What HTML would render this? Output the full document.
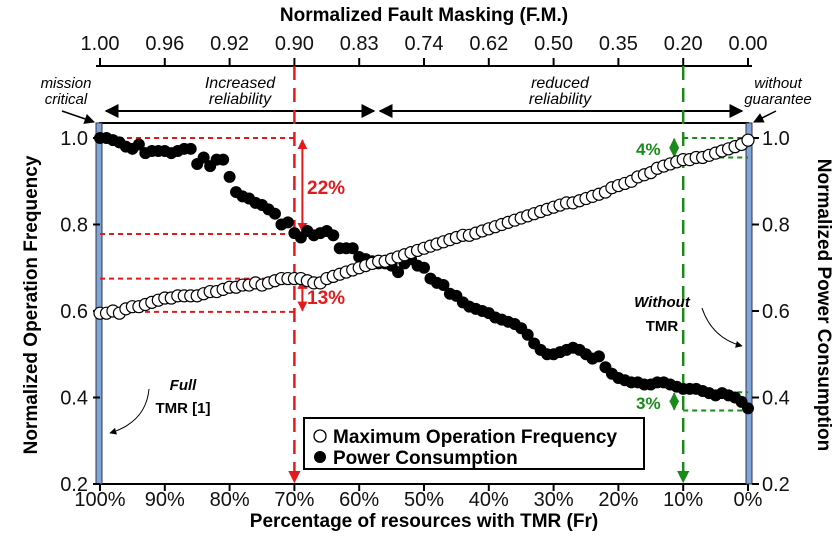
<!DOCTYPE html>
<html><head><meta charset="utf-8"><style>
html,body{margin:0;padding:0;background:#fff;width:838px;height:547px;overflow:hidden}
svg{display:block;font-family:"Liberation Sans","DejaVu Sans",sans-serif}
</style></head><body>
<svg id="chart" width="838" height="547" viewBox="0 0 838 547" xmlns="http://www.w3.org/2000/svg">
<defs>
<marker id="ab" viewBox="0 0 10 10" refX="9" refY="5" markerWidth="7" markerHeight="7" orient="auto-start-reverse"><path d="M0,0L10,5L0,10z" fill="#000"/></marker>
<marker id="ar" viewBox="0 0 10 10" refX="9" refY="5" markerWidth="5" markerHeight="5" orient="auto-start-reverse"><path d="M0,0L10,5L0,10z" fill="#e31a1c"/></marker>
<marker id="ag" viewBox="0 0 10 10" refX="9" refY="5" markerWidth="5" markerHeight="5" orient="auto-start-reverse"><path d="M0,0L10,5L0,10z" fill="#1a8a1a"/></marker>
</defs>
<g id="g"></g>
</svg>
<script>
const frTicks=[100,90,80,70,60,50,40,30,20,10,0];
const fmLabels=["1.00","0.96","0.92","0.90","0.83","0.74","0.62","0.50","0.35","0.20","0.00"];
const yTicks=[0.2,0.4,0.6,0.8,1.0];
// values from Fr=100% down to 0% in 1% steps
const powerValues=[1.0,1.0,0.995,0.99,0.98,0.975,0.985,0.965,0.97,0.97,0.97,0.965,0.97,0.975,0.975,0.94,0.955,0.935,0.95,0.95,0.91,0.875,0.865,0.86,0.85,0.845,0.835,0.825,0.80,0.805,0.78,0.77,0.785,0.775,0.78,0.785,0.775,0.745,0.745,0.745,0.725,0.72,0.715,0.71,0.71,0.705,0.69,0.71,0.72,0.705,0.70,0.675,0.665,0.66,0.64,0.635,0.62,0.61,0.605,0.60,0.595,0.585,0.58,0.575,0.57,0.56,0.545,0.525,0.51,0.50,0.50,0.505,0.51,0.515,0.51,0.50,0.49,0.495,0.47,0.455,0.445,0.44,0.435,0.435,0.43,0.43,0.435,0.435,0.43,0.425,0.42,0.42,0.42,0.415,0.41,0.405,0.41,0.405,0.40,0.39,0.375];
const freqValues=[0.595,0.595,0.60,0.595,0.605,0.61,0.61,0.615,0.62,0.625,0.63,0.63,0.635,0.635,0.635,0.635,0.64,0.645,0.645,0.65,0.655,0.655,0.66,0.66,0.665,0.66,0.665,0.67,0.675,0.675,0.675,0.675,0.67,0.665,0.665,0.675,0.68,0.685,0.69,0.695,0.70,0.705,0.71,0.715,0.715,0.72,0.725,0.73,0.735,0.74,0.745,0.75,0.755,0.76,0.765,0.77,0.775,0.775,0.78,0.785,0.79,0.795,0.80,0.805,0.81,0.815,0.82,0.825,0.83,0.835,0.84,0.845,0.85,0.85,0.855,0.86,0.865,0.87,0.875,0.885,0.89,0.895,0.90,0.91,0.915,0.92,0.93,0.935,0.94,0.945,0.95,0.95,0.955,0.955,0.96,0.965,0.97,0.975,0.98,0.985,0.995];
const X0=100,X1=748,YB=484,YT=138;
const xs=fr=>X0+(100-fr)/100*(X1-X0);
const ys=v=>YB-(v-0.2)/0.8*(YB-YT);
const g=document.getElementById('g');
const NS='http://www.w3.org/2000/svg';
function el(tag,attrs,parent,text){const e=document.createElementNS(NS,tag);for(const k in attrs)e.setAttribute(k,attrs[k]);if(text!==undefined)e.textContent=text;(parent||g).appendChild(e);return e;}
let f=el('rect',{x:X0,y:123,width:X1-X0,height:YB-123,fill:'none',stroke:'#000','stroke-width':2});

let b=el('rect',{x:96,y:123,width:6,height:YB-123,fill:'#7fa6d8',stroke:'#334','stroke-width':1});

b=el('rect',{x:746,y:123,width:6,height:YB-123,fill:'#7fa6d8',stroke:'#334','stroke-width':1});

frTicks.forEach((t,i)=>{
 let l=el('line',{x1:xs(t),x2:xs(t),y1:YB,y2:YB+7,stroke:'#000','stroke-width':2});
 
 let tx=el('text',{x:xs(t),y:YB+22,'text-anchor':'middle','font-size':20,fill:'#111'},null,t+'%');
 
 let l2=el('line',{x1:xs(t),x2:xs(t),y1:66,y2:58,stroke:'#000','stroke-width':2});
 
 let t2=el('text',{x:xs(t),y:50,'text-anchor':'middle','font-size':20,fill:'#111'},null,fmLabels[i]);
 
});
let ta=el('line',{x1:96,x2:752,y1:66,y2:66,stroke:'#000','stroke-width':2});

yTicks.forEach(v=>{
 let l=el('line',{x1:X0-7,x2:X0,y1:ys(v),y2:ys(v),stroke:'#000','stroke-width':2});
 
 let t=el('text',{x:X0-12,y:ys(v)+7,'text-anchor':'end','font-size':20,fill:'#111'},null,v.toFixed(1));
 
 let l2=el('line',{x1:752,x2:759,y1:ys(v),y2:ys(v),stroke:'#000','stroke-width':2});
 
 let t2=el('text',{x:762,y:ys(v)+7,'font-size':20,fill:'#111'},null,v.toFixed(1));
 
});
let tt=el('text',{x:424,y:527,'text-anchor':'middle','font-size':19,'font-weight':'bold'},null,'Percentage of resources with TMR (Fr)');

tt=el('text',{x:424,y:21,'text-anchor':'middle','font-size':19,'font-weight':'bold'},null,'Normalized Fault Masking (F.M.)');

tt=el('text',{x:0,y:0,'text-anchor':'middle','font-size':19,'font-weight':'bold',transform:'translate(37,305) rotate(-90)'},null,'Normalized Operation Frequency');

tt=el('text',{x:0,y:0,'text-anchor':'middle','font-size':19,'font-weight':'bold',transform:'translate(818,305) rotate(90)'},null,'Normalized Power Consumption');

let a=el('line',{x1:106,x2:374,y1:111,y2:111,stroke:'#000','stroke-width':2,'marker-start':'url(#ab)','marker-end':'url(#ab)'});

a=el('line',{x1:380,x2:742,y1:111,y2:111,stroke:'#000','stroke-width':2,'marker-start':'url(#ab)','marker-end':'url(#ab)'});

[['Increased',240,88],['reliability',240,104],['reduced',560,88],['reliability',560,104]].forEach(p=>{
 let t=el('text',{x:p[1],y:p[2],'text-anchor':'middle','font-size':16,'font-style':'italic'},null,p[0]);
 });
[['mission',66,88],['critical',66,104],['without',778,88],['guarantee',778,104]].forEach(p=>{
 let t=el('text',{x:p[1],y:p[2],'text-anchor':'middle','font-size':15,'font-style':'italic'},null,p[0]);
 });
a=el('line',{x1:62,x2:94,y1:111,y2:122,stroke:'#000','stroke-width':1.5,'marker-end':'url(#ab)'});

a=el('line',{x1:776,x2:754,y1:111,y2:122,stroke:'#000','stroke-width':1.5,'marker-end':'url(#ab)'});

const R='#e31a1c',G='#1a8a1a';
[[1.0],[0.778],[0.675],[0.598]].forEach(v=>{let l=el('line',{x1:X0,x2:xs(70),y1:ys(v[0]),y2:ys(v[0]),stroke:R,'stroke-width':2,'stroke-dasharray':'5,4'});
 });
a=el('line',{x1:xs(70),x2:xs(70),y1:66,y2:482,stroke:R,'stroke-width':2.5,'stroke-dasharray':'14,8','marker-end':'url(#ar)'});

a=el('line',{x1:xs(70)+8,x2:xs(70)+8,y1:ys(0.995),y2:ys(0.783),stroke:R,'stroke-width':2,'marker-start':'url(#ar)','marker-end':'url(#ar)'});

a=el('line',{x1:xs(70)+8,x2:xs(70)+8,y1:ys(0.672),y2:ys(0.601),stroke:R,'stroke-width':2,'marker-start':'url(#ar)','marker-end':'url(#ar)'});

let t=el('text',{x:307,y:194,'font-size':19,'font-weight':'bold',fill:R},null,'22%');
t=el('text',{x:307,y:304,'font-size':19,'font-weight':'bold',fill:R},null,'13%');
[[1.0],[0.955],[0.412],[0.37]].forEach(v=>{let l=el('line',{x1:xs(10),x2:X1,y1:ys(v[0]),y2:ys(v[0]),stroke:G,'stroke-width':2,'stroke-dasharray':'5,4'});
 });
a=el('line',{x1:xs(10),x2:xs(10),y1:66,y2:482,stroke:G,'stroke-width':2.5,'stroke-dasharray':'14,8','marker-end':'url(#ag)'});

a=el('line',{x1:xs(10)-9,x2:xs(10)-9,y1:ys(0.998),y2:ys(0.957),stroke:G,'stroke-width':2,'marker-start':'url(#ag)','marker-end':'url(#ag)'});

a=el('line',{x1:xs(10)-9,x2:xs(10)-9,y1:ys(0.41),y2:ys(0.372),stroke:G,'stroke-width':2,'marker-start':'url(#ag)','marker-end':'url(#ag)'});

t=el('text',{x:636,y:155,'font-size':17,'font-weight':'bold',fill:G},null,'4%');
t=el('text',{x:636,y:409,'font-size':17,'font-weight':'bold',fill:G},null,'3%');
t=el('text',{x:662,y:307,'text-anchor':'middle','font-size':15,'font-weight':'bold','font-style':'italic'},null,'Without');
t=el('text',{x:662,y:331,'text-anchor':'middle','font-size':15,'font-weight':'bold'},null,'TMR');
a=el('path',{d:'M702,308 Q712,338 742,346',fill:'none',stroke:'#000','stroke-width':1,'marker-end':'url(#ab)'});
t=el('text',{x:183,y:390,'text-anchor':'middle','font-size':15,'font-weight':'bold','font-style':'italic'},null,'Full');
t=el('text',{x:183,y:413,'text-anchor':'middle','font-size':15,'font-weight':'bold'},null,'TMR [1]');
a=el('path',{d:'M149,389 Q146,422 110,433',fill:'none',stroke:'#000','stroke-width':1,'marker-end':'url(#ab)'});
powerValues.forEach((v,i)=>{const c=el('circle',{cx:xs(100-i),cy:ys(v),r:6,fill:'#000'});
 });
freqValues.forEach((v,i)=>{const c=el('circle',{cx:xs(100-i),cy:ys(v),r:6,fill:'#fff',stroke:'#000','stroke-width':1.2});
 });
const lg=el('g',{});
el('rect',{x:304,y:418,width:340,height:51,fill:'#fff',stroke:'#000','stroke-width':2},lg);
let lc=el('circle',{cx:320,cy:436,r:6,fill:'#fff',stroke:'#000','stroke-width':1.3},lg);
t=el('text',{x:333,y:443,'font-size':19,'font-weight':'bold'},lg,'Maximum Operation Frequency');
lc=el('circle',{cx:320,cy:457,r:6,fill:'#000'},lg);
t=el('text',{x:333,y:464,'font-size':19,'font-weight':'bold'},lg,'Power Consumption');
</script>
</body></html>
